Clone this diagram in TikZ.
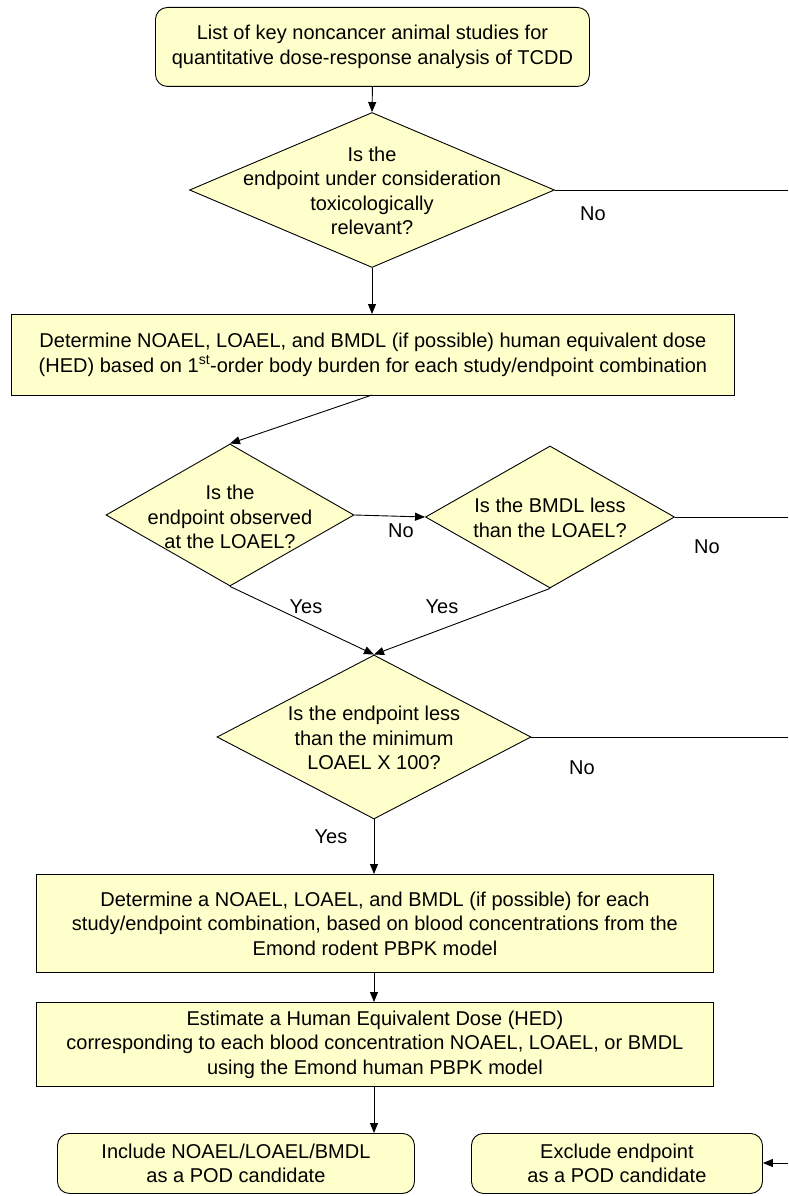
\documentclass[tikz,border=0pt]{standalone}
\usepackage{fontspec}
\setmainfont{Liberation Sans}
\usetikzlibrary{shapes.geometric,arrows.meta}
\definecolor{boxfill}{HTML}{FFFFCC}
\begin{document}
\begin{tikzpicture}[x=1pt,y=-1pt,
  every node/.style={font=\fontsize{20}{24.5}\selectfont},
  proc/.style={draw=black,fill=boxfill,line width=0.9pt,inner sep=0pt,anchor=north west},
  roundproc/.style={proc,rounded corners=12pt},
  decision/.style={draw=black,fill=boxfill,line width=0.9pt,diamond,inner sep=0pt},
  txt/.style={align=center,inner sep=0pt},
  lbl/.style={inner sep=0pt},
  flow/.style={line width=0.9pt,-{Triangle[length=10pt,width=8pt]}},
  plain/.style={line width=0.9pt}]
\useasboundingbox (0,0) rectangle (788,1196);

% start box
\node[roundproc,minimum width=434pt,minimum height=79pt] (start) at (155,7) {};
\node[txt] (starttxt) at (start.center) {List of key noncancer animal studies for\\quantitative dose-response analysis of TCDD};

% relevance question
\node[decision,minimum width=365pt,minimum height=155pt] (q1) at (372,190) {};
\node[txt] (q1txt) at (372,191) {Is the\\endpoint under consideration\\toxicologically\\relevant?};

% body burden HED box
\node[proc,minimum width=723pt,minimum height=81pt] (bb) at (11,314) {};
\node[txt] (bbtxt) at (bb.center) {Determine NOAEL, LOAEL, and BMDL (if possible) human equivalent dose\\(HED) based on 1\textsuperscript{st}-order body burden for each study/endpoint combination};

% LOAEL questions
\node[decision,minimum width=248pt,minimum height=142pt] (q2) at (230,515) {};
\node[txt] (q2txt) at (230,517) {Is the\\endpoint observed\\at the LOAEL?};
\node[decision,minimum width=249pt,minimum height=142pt] (q3) at (550,517) {};
\node[txt] (q3txt) at (550,518) {Is the BMDL less\\than the LOAEL?};

% minimum LOAEL question
\node[decision,minimum width=314pt,minimum height=164pt] (q4) at (374,737) {};
\node[txt] (q4txt) at (374,738) {Is the endpoint less\\than the minimum\\LOAEL X 100?};

% PBPK boxes
\node[proc,minimum width=677pt,minimum height=98pt] (rodent) at (36,874) {};
\node[txt] (rodenttxt) at (rodent.center) {Determine a NOAEL, LOAEL, and BMDL (if possible) for each\\study/endpoint combination, based on blood concentrations from the\\Emond rodent PBPK model};
\node[proc,minimum width=677pt,minimum height=84pt] (human) at (36,1002) {};
\node[txt] (humantxt) at (human.center) {Estimate a Human Equivalent Dose (HED)\\corresponding to each blood concentration NOAEL, LOAEL, or BMDL\\using the Emond human PBPK model};

% outcomes
\node[roundproc,minimum width=357pt,minimum height=60pt] (incl) at (57,1133) {};
\node[txt] (incltxt) at (incl.center) {Include NOAEL/LOAEL/BMDL\\as a POD candidate};
\node[roundproc,minimum width=291pt,minimum height=60pt] (excl) at (471,1133) {};
\node[txt] (excltxt) at (excl.center) {Exclude endpoint\\as a POD candidate};

% free ends at the right edge
\coordinate (e1) at (788,190);
\coordinate (e3) at (788,517);
\coordinate (e4) at (788,737);
\coordinate (e5) at (788,1163);

% connectors
\draw[flow] (start.south) -- (q1.north);
\draw[flow] (q1.south) -- (372,314);
\draw[flow] (372,395) -- (q2.north);
\draw[flow] (q2.east) -- (q3.west);
\draw[flow] (q2.south) -- (q4.north);
\draw[flow] (q3.south) -- (q4.north);
\draw[flow] (q4.south) -- (rodent.north -| q4.south);
\draw[flow] (rodent.south -| q4.south) -- (human.north -| q4.south);
\draw[flow] (human.south -| q4.south) -- (incl.north -| q4.south);
\draw[plain] (q1.east) -- (e1);
\draw[plain] (q3.east) -- (e3);
\draw[plain] (q4.east) -- (e4);
\draw[flow] (e5) -- (excl.east |- e5);

% branch labels
\node[lbl] (no1) at (593,214) {No};
\node[lbl] (no2) at (401,531) {No};
\node[lbl] (no3) at (707,547) {No};
\node[lbl] (yes1) at (306,607) {Yes};
\node[lbl] (yes2) at (442,607) {Yes};
\node[lbl] (no4) at (582,768) {No};
\node[lbl] (yes3) at (331,837) {Yes};
\end{tikzpicture}
\end{document}
